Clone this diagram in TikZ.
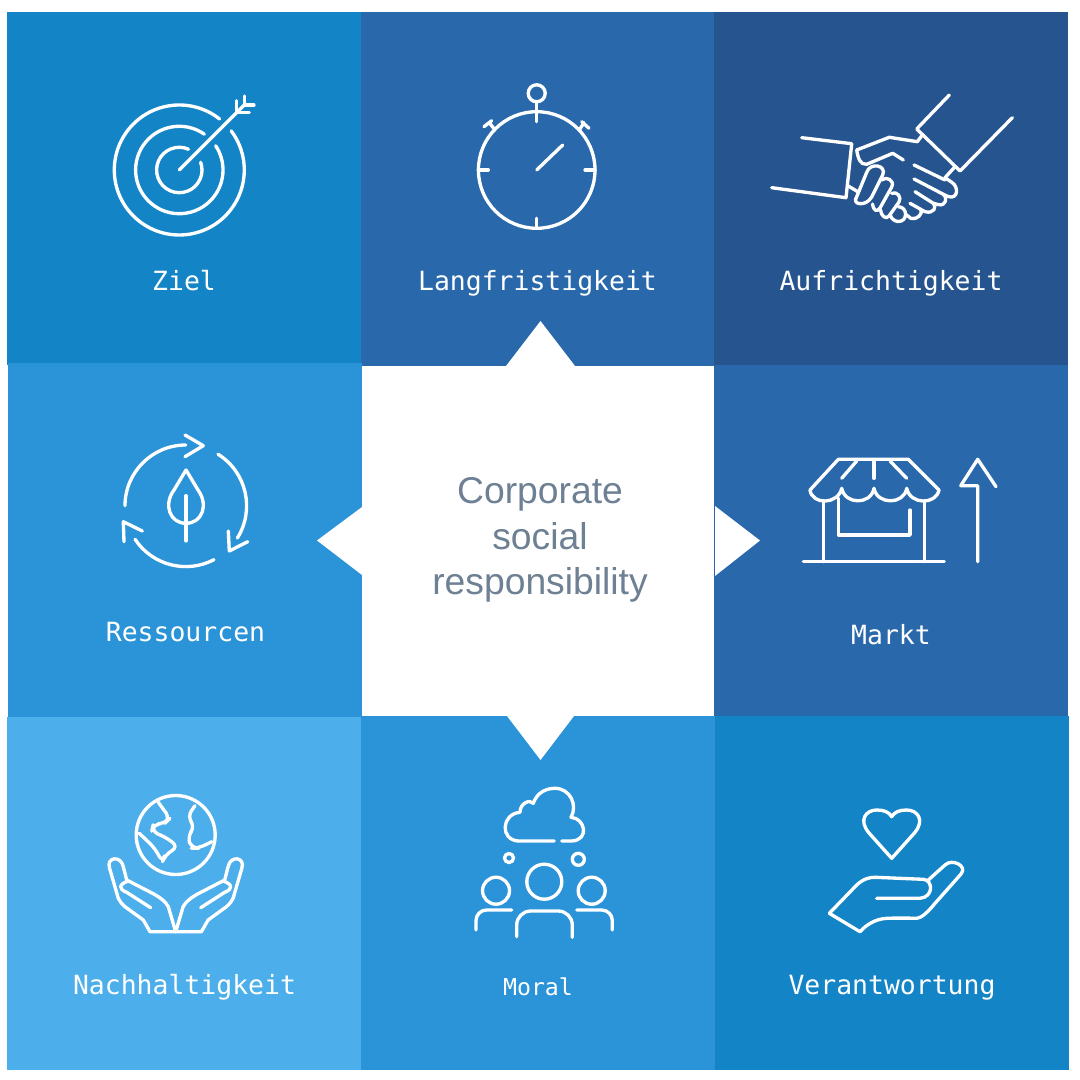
\documentclass[tikz,border=0pt]{standalone}
\usepackage{xcolor}
\usepackage{fontspec}
\setmainfont{Liberation Sans}
\newfontfamily\monolabel{DejaVu Sans Mono}
\usetikzlibrary{positioning, calc}
\definecolor{zielblue}{HTML}{1384C6}
\definecolor{midblue}{HTML}{2868AB}
\definecolor{deepblue}{HTML}{26548F}
\definecolor{brightblue}{HTML}{2B93D7}
\definecolor{skyblue}{HTML}{4CAEEA}
\definecolor{coregray}{HTML}{6E8093}
\tikzset{
  iconline/.style={draw=white, line width=0.95pt, line cap=round, line join=round},
  tilelabel/.style={white, anchor=base, font=\fontsize{7.52}{7.52}\selectfont\monolabel},
}

\begin{document}
\begin{tikzpicture}[x=0.01cm, y=-0.01cm]
  \useasboundingbox (0,0) rectangle (1080,1080);
  \fill[white] (0,0) rectangle (1080,1080);

  % Tiles
  \fill[zielblue] (7,12) rectangle (361,365);
  \fill[midblue] (361,12) rectangle (714,366);
  \fill[deepblue] (714,12) rectangle (1068,365);
  \fill[brightblue] (8,363) rectangle (362,717);
  \fill[midblue] (714,365) rectangle (1068,716);
  \fill[skyblue] (7,717) rectangle (361,1070);
  \fill[brightblue] (361,716) rectangle (715,1070);
  \fill[zielblue] (715,716) rectangle (1069,1070);

  % Centre square and its four points
  \fill[white] (362,366) rectangle (714,716);
  \fill[white] (506,366) -- (540.5,321) -- (575,366) -- cycle;
  \fill[white] (362,507) -- (317,540.5) -- (362,575) -- cycle;
  \fill[white] (715,506) -- (760,540.5) -- (715,576) -- cycle;
  \fill[white] (507,716) -- (540.5,760) -- (574,716) -- cycle;
  \node[coregray, anchor=base, font=\fontsize{10.6}{10.6}\selectfont] (coreA) at (540,504) {Corporate};
  \node[coregray, anchor=base, font=\fontsize{10.6}{10.6}\selectfont] (coreB) at (540,549) {social};
  \node[coregray, anchor=base, font=\fontsize{10.6}{10.6}\selectfont] (coreC) at (540,594) {responsibility};

  % Labels
  \node[tilelabel] (ziel) at (184,290.5) {Ziel};
  \node[tilelabel] (lang) at (537.5,290.5) {Langfristigkeit};
  \node[tilelabel] (aufr) at (891,290.5) {Aufrichtigkeit};
  \node[tilelabel] (ress) at (185.5,641.5) {Ressourcen};
  \node[tilelabel] (markt) at (891,644.5) {Markt};
  \node[tilelabel] (nach) at (184.5,994.5) {Nachhaltigkeit};
  \node[tilelabel, font=\fontsize{6.6}{6.6}\selectfont\monolabel] (moral) at (538,995) {Moral};
  \node[tilelabel] (veran) at (892,994.5) {Verantwortung};

  % Target
  \draw[iconline] (179.3,170) ++(-51.7:65) arc[start angle=-51.7, end angle=-397, radius=65];
  \draw[iconline] (179.3,170) ++(-55:43.7) arc[start angle=-55, end angle=-393.7, radius=43.7];
  \draw[iconline] (179.3,170) ++(-66:22.7) arc[start angle=-66, end angle=-380, radius=22.7];
  \draw[iconline] (179.3,170) -- (244.3,105);
  \draw[iconline] (236.7,100.7) -- (236.7,112.7) -- (249.3,112.7);
  \draw[iconline] (244.3,96) -- (244.3,105) -- (254,105);

  % Stopwatch
  \draw[iconline] (536.7,170) circle (58.3);
  \draw[iconline] (536.7,93.3) circle (8.5);
  \draw[iconline] (536.7,102) -- (536.7,121.7);
  \draw[iconline] (478.3,170) -- (488.3,170);
  \draw[iconline] (585,170) -- (595,170);
  \draw[iconline] (536.7,218.3) -- (536.7,228);
  \draw[iconline] (536.7,170) -- (562.7,145);
  \draw[iconline] (495,130) -- (489.3,122.7);
  \draw[iconline] (484,126.7) -- (491.7,120.7);
  \draw[iconline] (579.3,130) -- (584,122.7);
  \draw[iconline] (581.7,121.7) -- (589,128.3);

  % Handshake: cuffs
  \draw[iconline] (801.7,137.7) -- (851.7,143.7) -- (846,197.7) -- (771.7,187.7);
  \draw[iconline] (949.3,95) -- (916.7,129) -- (960,171) -- (1012.3,117.7);
  % Handshake: upper hand and thumb
  \draw[iconline] (922.3,135) -- (917.3,141.7) -- (889.3,137.3) -- (856.7,150);
  \draw[iconline] (856.7,150) .. controls (858,158) and (860,165) .. (866.7,164.3) -- (892.7,153.3) -- (903.3,160);
  \draw[iconline] (945,177.7) -- (955,166.7);
  % Handshake: left fingers
  \draw[iconline] (848.3,186) -- (857.7,191.7);
  \draw[iconline] (856.7,196.7) -- (866.7,172.3) .. controls (870,162) and (887,165) .. (882.7,175) -- (871.7,197) .. controls (866,207) and (851,205) .. (856.7,196.7);
  \draw[iconline] (881.7,180) .. controls (886,176) and (895,180) .. (891.7,187) -- (880,208) .. controls (877,213) and (873,210) .. (872.5,204);
  \draw[iconline] (891.7,193.3) .. controls (897,191) and (902,197) .. (899,202) -- (889,216) .. controls (886,220) and (881,216) .. (880.5,210);
  \draw[iconline] (898.3,206.7) .. controls (908,207) and (908,222) .. (898,221.5) .. controls (894,221.5) and (890,217) .. (890.5,215);
  % Handshake: right fingers
  \draw[iconline] (914,165) -- (945,180);
  \draw[iconline] (945,177.7) -- (952,182.5) .. controls (959,187) and (958,200) .. (948,196.5) -- (943.3,194.3) -- (914,179);
  \draw[iconline] (943.3,194.3) .. controls (948,197) and (946,207) .. (938,204.5) -- (933.3,203.3) -- (915,191.7);
  \draw[iconline] (933.3,203.3) .. controls (937,207) and (934,214) .. (925,211.7) -- (921,209.5) -- (910,203.3);
  \draw[iconline] (921,209.5) .. controls (923,214) and (917,220) .. (911,218.5) -- (906,214.5);

  % Cycle with leaf
  \draw[iconline] (185.8,505.8) ++(-180:60.8) arc[start angle=-180, end angle=-90, radius=60.8];
  \draw[iconline] (185,435) -- (203.3,445.7) -- (185,456.7);
  \draw[iconline] (185.8,505.8) ++(-58:60.8) arc[start angle=-58, end angle=32, radius=60.8];
  \draw[iconline] (228.3,531) -- (229.3,551) -- (247.7,541.7);
  \draw[iconline] (185.8,505.8) ++(62.4:60.8) arc[start angle=62.4, end angle=146.6, radius=60.8];
  \draw[iconline] (142.3,531) -- (123.3,521.7) -- (124,541.7);
  \draw[iconline] (186,470) -- (198,490) .. controls (209,505) and (202,523.3) .. (186,523.3) .. controls (170,523.3) and (163,505) .. (174,490) -- cycle;
  \draw[iconline] (186,495.7) -- (186,541);

  % Shop
  \draw[iconline] (838.3,459.3) -- (908.3,459.3) -- (939,490) .. controls (936,505) and (910,505) .. (906.7,488.3) .. controls (904,505) and (877,505) .. (874,488.3) .. controls (871,505) and (845,505) .. (841.7,488.3) .. controls (838,505) and (812,505) .. (810,490) -- cycle;
  \draw[iconline] (856.7,461) -- (841.7,478.3);
  \draw[iconline] (874,461) -- (874,478.3);
  \draw[iconline] (890,461) -- (906.7,478.3);
  \draw[iconline] (823.3,501.7) -- (823.3,561.7);
  \draw[iconline] (924.3,501.7) -- (924.3,561.7);
  \draw[iconline] (803.3,561.7) -- (944.3,561.7);
  \draw[iconline] (838.3,498.3) -- (838.3,535) -- (910,535) -- (910,510);
  \draw[iconline] (977.7,561.7) -- (977.7,485.7) -- (960.7,485.7) -- (977.7,459.3) -- (996,486.7);

  % Globe
  \draw[iconline] (175.7,835) circle (39.5);
  \draw[iconline, rounded corners=2pt] (158.3,802.3) -- (170,818.3) -- (165,823.3) -- (153.3,824.3) -- (151.7,831.7) -- (165,836.7) -- (178.3,846.7) -- (165,855) -- (162.3,862.3) -- (155,848.3) -- (139.3,833.3);
  \draw[iconline, rounded corners=2pt] (195,805.7) -- (187.3,816.7) -- (195,826.7) -- (187.3,836.7) -- (191.7,848.3) -- (198.3,848.3) -- (211.7,841.7);
  % Open hands, the right one mirrored
  \foreach \mirr/\off in {1/0, -1/351.4} {
    \begin{scope}[shift={(\off,0)}, xscale=\mirr]
      \draw[iconline] (175.7,931.7) -- (150,931.7) -- (143.3,920) -- (125,906.7) .. controls (121,903) and (119.5,901) .. (118.3,898.3) -- (109.5,868) .. controls (106,857) and (121,855) .. (123.3,866.7) -- (126.7,880) -- (150,892) .. controls (160,897) and (166,902) .. (168.3,906.7) -- (175.7,931.7);
      \draw[iconline] (128.3,881) .. controls (119,884) and (118,889) .. (126.7,892.3) -- (150.7,907.7);
    \end{scope}
  }

  % Cloud and people
  \draw[iconline] (554.3,841) -- (518.3,841) .. controls (500,840) and (501,814) .. (520,812.3) .. controls (520,803) and (530,799) .. (533.3,803.3) .. controls (537,792) and (547,788.3) .. (555,788.3) .. controls (570,788.3) and (578,805) .. (571,817.3) .. controls (585,818) and (590,840) .. (571.7,841) -- (561.7,841);
  \draw[iconline] (509,858) circle (4.5);
  \draw[iconline] (578.3,859.3) circle (6);
  \draw[iconline] (544.3,881.7) circle (17.5);
  \draw[iconline] (496,890.7) circle (13.5);
  \draw[iconline] (591.7,890.7) circle (13.5);
  \draw[iconline, rounded corners=4pt] (516.7,936.7) -- (516.7,911) -- (572.3,911) -- (572.3,937.3);
  \draw[iconline, rounded corners=3pt] (476,930) -- (476,910) -- (511.7,910);
  \draw[iconline, rounded corners=3pt] (576.7,910) -- (612.3,910) -- (612.3,930);

  % Heart over hand
  \draw[iconline] (891.7,858.3) -- (869,833) .. controls (858,820) and (866,810) .. (876.7,810) .. controls (884,810) and (889,812) .. (891.7,816.7) .. controls (894.4,812) and (899.4,810) .. (906.7,810) .. controls (917.4,810) and (925.4,820) .. (914.4,833) -- cycle;
  \draw[iconline] (829.3,913.3) -- (856.7,885) .. controls (863,879) and (870,877) .. (875,877.3) -- (923.3,879.3) .. controls (933,880) and (934,897) .. (920,898.3) -- (876.7,898.3);
  \draw[iconline] (928.3,880) -- (945,865) .. controls (952,858) and (968,866) .. (961,874) -- (935,903.3) .. controls (928,912) and (921,918.3) .. (916.7,918.3) .. controls (905,918) and (896,918) .. (886.7,918.3) .. controls (875,919) and (866,925) .. (860,931.7) -- (829.3,913.3);
\end{tikzpicture}
\end{document}
